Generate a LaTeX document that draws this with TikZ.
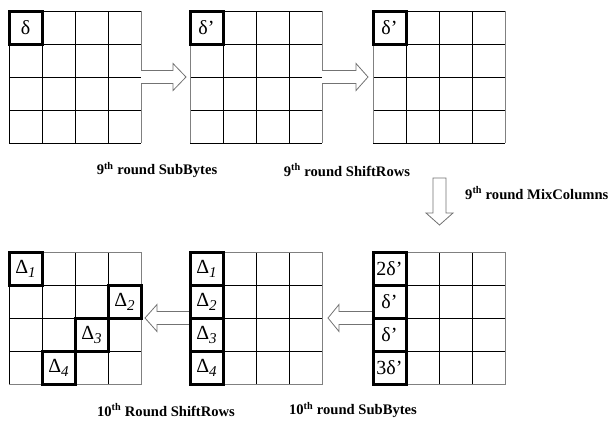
\documentclass[tikz,border=0pt]{standalone}
\usepackage{fontspec}
\setmainfont{Liberation Serif}
\usetikzlibrary{calc}
\newcommand\cellfnt{\fontsize{20}{22}\selectfont}
\newcommand\labfnt{\fontsize{14.6}{16}\selectfont\bfseries}
\newcommand\mysub[1]{\raisebox{-4pt}{\fontsize{15}{15}\selectfont\itshape #1}}
\newcommand\drawgrid[2]{%
  \foreach \i in {1,2,3} {
    \draw[cellline] (#1+\i*33, #2) -- (#1+\i*33, #2+132);
    \draw[cellline] (#1, #2+\i*33) -- (#1+132, #2+\i*33);
  }}
\tikzset{
  cellline/.style={black, line width=1pt},
  frameblack/.style={black, line width=1pt},
  framegray/.style={black!50, line width=1pt},
  gridnode/.style={minimum size=132pt, inner sep=0pt, outer sep=0pt},
  hicell/.style={minimum size=33pt, inner sep=0pt, outer sep=0pt, font=\cellfnt},
  hiline/.style={black, line width=3pt, line join=miter},
  blockarrow/.style={draw=black!55, fill=white, line width=0.8pt, line join=miter},
  lab/.style={font=\labfnt, inner sep=0pt}
}
\begin{document}
\begin{tikzpicture}[x=1pt,y=-1pt]
\useasboundingbox[fill=white] (0,0) rectangle (616,424);
% grid nodes
\node[gridnode] (g1) at (75,77) {};
\node[gridnode] (g2) at (256,77) {};
\node[gridnode] (g3) at (439,77) {};
\node[gridnode] (g4) at (75,318) {};
\node[gridnode] (g5) at (256,318) {};
\node[gridnode] (g6) at (439,318) {};
% grid lines
\drawgrid{9}{11}
\drawgrid{190}{11}
\drawgrid{373}{11}
\drawgrid{9}{252}
\drawgrid{190}{252}
\drawgrid{373}{252}
% frames top
\draw[frameblack] (g1.north east) -- (g1.north west) -- (g1.south west) -- (g1.south east);
\draw[framegray] (g1.north east) -- (g1.south east);
\draw[frameblack] (g2.north west) -- (g2.north east) (g2.south west) -- (g2.south east);
\draw[framegray] (g2.north east) -- (g2.south east) (g2.north west) -- (g2.south west);
\draw[frameblack] (g3.north west) -- (g3.north east) (g3.south west) -- (g3.south east);
\draw[framegray] (g3.north east) -- (g3.south east) (g3.north west) -- (g3.south west);
% frames bottom
\draw[framegray] (g4.north west) -- (g4.north east) -- (g4.south east) -- (g4.south west);
\draw[frameblack] (g4.north west) -- (g4.south west);
\draw[framegray] (g5.north west) -- (g5.north east) -- (g5.south east) -- (g5.south west);
\draw[framegray] (g6.north west) -- (g6.north east) -- (g6.south east) -- (g6.south west);
% arrows
\coordinate (a1s) at (g1.east);
\coordinate (a1t) at ($(g2.west)+(-4,0)$);
\draw[blockarrow] ($(a1s)+(0,-6.5)$) -- ($(a1t)+(-13,-6.5)$) -- ($(a1t)+(-13,-13.5)$) -- (a1t)
  -- ($(a1t)+(-13,13.5)$) -- ($(a1t)+(-13,6.5)$) -- ($(a1s)+(0,6.5)$);
\coordinate (a2s) at (g2.east);
\coordinate (a2t) at ($(g3.west)+(-5,0)$);
\draw[blockarrow] ($(a2s)+(0,-6.5)$) -- ($(a2t)+(-12,-6.5)$) -- ($(a2t)+(-12,-13.5)$) -- (a2t)
  -- ($(a2t)+(-12,13.5)$) -- ($(a2t)+(-12,6.5)$) -- ($(a2s)+(0,6.5)$);
\coordinate (a3s) at ($(g3.south)+(0.5,35)$);
\coordinate (a3t) at ($(g6.north)+(0.5,-27)$);
\draw[blockarrow] ($(a3s)+(-6.5,0)$) -- ($(a3t)+(-6.5,-12)$) -- ($(a3t)+(-13.5,-12)$) -- (a3t)
  -- ($(a3t)+(13.5,-12)$) -- ($(a3t)+(6.5,-12)$) -- ($(a3s)+(6.5,0)$) -- cycle;
\coordinate (a4s) at (g6.west);
\coordinate (a4t) at ($(g5.east)+(6,0)$);
\draw[blockarrow] ($(a4s)+(0,-6.5)$) -- ($(a4t)+(11,-6.5)$) -- ($(a4t)+(11,-13.5)$) -- (a4t)
  -- ($(a4t)+(11,13.5)$) -- ($(a4t)+(11,6.5)$) -- ($(a4s)+(0,6.5)$);
\coordinate (a5s) at (g5.west);
\coordinate (a5t) at ($(g4.east)+(4,0)$);
\draw[blockarrow] ($(a5s)+(0,-6.5)$) -- ($(a5t)+(12,-6.5)$) -- ($(a5t)+(12,-13.5)$) -- (a5t)
  -- ($(a5t)+(12,13.5)$) -- ($(a5t)+(12,6.5)$) -- ($(a5s)+(0,6.5)$);
% highlighted cells
\node[hicell] (c1) at (25.5,27.5) {δ};
\node[hicell] (c2) at (206.5,27.5) {δ’};
\node[hicell] (c3) at (389.5,27.5) {δ’};
\node[hicell] (d1) at (25.5,268.5) {Δ\mysub{1}};
\node[hicell] (d2) at (124.5,301.5) {Δ\mysub{2}};
\node[hicell] (d3) at (91.5,334.5) {Δ\mysub{3}};
\node[hicell] (d4) at (58.5,367.5) {Δ\mysub{4}};
\node[hicell] (e1) at (206.5,268.5) {Δ\mysub{1}};
\node[hicell] (e2) at (206.5,301.5) {Δ\mysub{2}};
\node[hicell] (e3) at (206.5,334.5) {Δ\mysub{3}};
\node[hicell] (e4) at (206.5,367.5) {Δ\mysub{4}};
\node[hicell] (f1) at (389.5,268.5) {2δ’};
\node[hicell] (f2) at (389.5,301.5) {δ’};
\node[hicell] (f3) at (389.5,334.5) {δ’};
\node[hicell] (f4) at (389.5,367.5) {3δ’};
\foreach \n in {c1,c2,c3,d1,d2,d3,d4,e1,e2,e3,e4,f1,f2,f3,f4}
  {\draw[hiline] (\n.north west) rectangle (\n.south east);}
% labels
\node[lab] (l1) at (157,170) {9\textsuperscript{th} round SubBytes};
\node[lab] (l2) at (347,170) {9\textsuperscript{th} round ShiftRows};
\node[lab, anchor=west] (l3) at (465,193) {9\textsuperscript{th} round MixColumns};
\node[lab] (l4) at (166,410) {10\textsuperscript{th} Round ShiftRows};
\node[lab] (l5) at (353,410) {10\textsuperscript{th} round SubBytes};
\end{tikzpicture}
\end{document}
